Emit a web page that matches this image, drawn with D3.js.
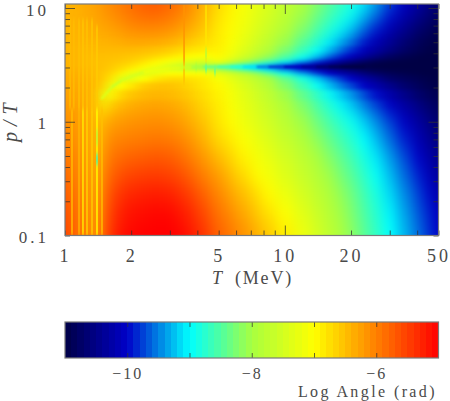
<!DOCTYPE html>
<html>
<head>
<meta charset="utf-8">
<script src="https://cdn.jsdelivr.net/npm/d3@7/dist/d3.min.js"></script>
<style>
  html, body { margin: 0; padding: 0; background: #fff; }
  text { font-family: "Liberation Serif", serif; fill: #4a4a4a; }
</style>
</head>
<body>
<div id="chart"></div>
<script>
// temperature and p/T of the cells
var tempCols = [1, 1.1, 1.2, 1.3, 1.4, 1.5, 1.65, 1.8, 2, 2.3, 2.6, 3, 3.4, 3.8, 4.3, 5, 5.7, 6.5, 7.5, 8.5, 10, 12, 14, 16, 18, 20, 23, 26, 30, 35, 40, 45, 50];
var ptRows = [10.9, 9.24, 7.56, 6.17, 5.05, 4.3, 3.8, 3.51, 3.3, 3.17, 3.04, 2.92, 2.81, 2.64, 2.39, 2.07, 1.73, 1.35, 1, 0.695, 0.483, 0.335, 0.233, 0.162, 0.117, 0.1];

// log angle per row, top of the plot first
var row00 = [-6.4,-6.4,-6.35,-6.3,-6.25,-6.15,-6.05,-5.95,-5.85,-5.75,-5.7,-5.8,-5.95,-6.15,-6.4,-6.7,-6.9,-7.1,-7.28,-7.46,-7.7,-7.95,-8.2,-8.45,-8.65,-8.84,-9.1,-9.4,-9.75,-10.08,-10.3,-10.5,-10.7];
var row01 = [-6.4,-6.4,-6.35,-6.3,-6.25,-6.18,-6.08,-6,-5.9,-5.8,-5.78,-5.88,-6.02,-6.2,-6.45,-6.75,-6.93,-7.12,-7.32,-7.5,-7.75,-8.02,-8.3,-8.54,-8.74,-8.93,-9.22,-9.52,-9.87,-10.16,-10.4,-10.6,-10.75];
var row02 = [-6.4,-6.4,-6.38,-6.35,-6.3,-6.25,-6.18,-6.1,-6,-5.95,-5.95,-6,-6.15,-6.3,-6.5,-6.8,-6.96,-7.16,-7.37,-7.56,-7.82,-8.12,-8.41,-8.67,-8.88,-9.1,-9.42,-9.72,-10.05,-10.31,-10.55,-10.72,-10.85];
var row03 = [-6.4,-6.4,-6.4,-6.38,-6.35,-6.32,-6.28,-6.22,-6.15,-6.12,-6.12,-6.18,-6.28,-6.42,-6.6,-6.85,-6.98,-7.2,-7.43,-7.64,-7.91,-8.24,-8.55,-8.82,-9.05,-9.32,-9.66,-9.97,-10.23,-10.48,-10.72,-10.85,-10.92];
var row04 = [-6.4,-6.42,-6.42,-6.42,-6.42,-6.4,-6.38,-6.35,-6.3,-6.3,-6.32,-6.38,-6.48,-6.6,-6.72,-6.85,-7.04,-7.28,-7.53,-7.75,-8.06,-8.43,-8.74,-9.03,-9.31,-9.56,-9.9,-10.14,-10.38,-10.63,-10.82,-10.92,-10.97];
var row05 = [-6.4,-6.42,-6.45,-6.45,-6.45,-6.45,-6.45,-6.45,-6.45,-6.48,-6.52,-6.6,-6.7,-6.78,-6.85,-6.9,-7.1,-7.38,-7.65,-7.9,-8.24,-8.61,-8.93,-9.26,-9.55,-9.82,-10.1,-10.3,-10.53,-10.74,-10.88,-10.96,-11];
var row06 = [-6.4,-6.42,-6.45,-6.48,-6.48,-6.5,-6.5,-6.52,-6.55,-6.6,-6.68,-6.78,-6.9,-6.98,-7.05,-6.95,-7.2,-7.52,-7.83,-8.1,-8.46,-8.83,-9.18,-9.53,-9.82,-10.06,-10.3,-10.53,-10.75,-10.88,-10.96,-11,-11];
var row07 = [-6.4,-6.42,-6.45,-6.48,-6.5,-6.5,-6.52,-6.55,-6.6,-6.72,-6.85,-7,-7.1,-7.2,-7.3,-7.08,-7.4,-7.74,-8.07,-8.34,-8.7,-9.1,-9.51,-9.86,-10.12,-10.32,-10.58,-10.78,-10.88,-10.96,-11,-11,-11];
var row08 = [-6.4,-6.42,-6.45,-6.48,-6.5,-6.52,-6.55,-6.6,-6.68,-6.82,-6.98,-7.2,-7.35,-7.5,-7.6,-7.34,-7.72,-8.1,-8.42,-8.72,-9.12,-9.55,-9.92,-10.23,-10.49,-10.72,-10.85,-10.94,-11,-11,-11,-11,-11];
var row09 = [-6.4,-6.42,-6.45,-6.48,-6.5,-6.52,-6.58,-6.65,-6.75,-6.92,-7.1,-7.35,-7.55,-7.7,-7.8,-7.9,-8.27,-8.67,-9.05,-9.3,-9.67,-10.04,-10.35,-10.6,-10.78,-10.88,-10.95,-11,-11,-11,-11,-11,-11];
var row10 = [-6.4,-6.42,-6.45,-6.48,-6.5,-6.52,-6.6,-6.7,-6.8,-7.02,-7.2,-7.45,-7.7,-7.95,-8.1,-8.4,-8.75,-9.05,-9.3,-9.5,-9.8,-10.1,-10.45,-10.7,-10.88,-11,-11,-11,-11,-11,-11,-11,-11];
var row11 = [-6.38,-6.4,-6.42,-6.45,-6.5,-6.52,-6.62,-6.72,-6.88,-7.15,-7.35,-7.4,-7.6,-7.75,-7.85,-8.1,-8.4,-8.72,-9.05,-9.28,-9.6,-9.95,-10.2,-10.44,-10.64,-10.78,-10.9,-10.98,-11,-11,-11,-11,-11];
var row12 = [-6.35,-6.38,-6.4,-6.45,-6.5,-6.55,-6.65,-6.78,-7,-7.25,-7.4,-7.28,-7.3,-7.4,-7.45,-7.68,-7.92,-8.26,-8.63,-8.97,-9.33,-9.71,-10.03,-10.23,-10.4,-10.56,-10.74,-10.85,-10.93,-10.98,-11,-11,-11];
var row13 = [-6.35,-6.38,-6.4,-6.45,-6.5,-6.58,-6.7,-6.95,-7.35,-7.4,-7.15,-7,-7,-7,-7.02,-7.28,-7.52,-7.78,-8.06,-8.4,-8.86,-9.3,-9.68,-10,-10.18,-10.35,-10.57,-10.74,-10.85,-10.92,-10.97,-11,-11];
var row14 = [-6.32,-6.35,-6.38,-6.42,-6.48,-6.6,-6.85,-7.4,-7.3,-7,-6.8,-6.72,-6.72,-6.78,-6.85,-7.08,-7.3,-7.55,-7.79,-8.02,-8.4,-8.81,-9.18,-9.5,-9.78,-10.02,-10.25,-10.46,-10.7,-10.82,-10.9,-10.96,-11];
var row15 = [-6.3,-6.32,-6.35,-6.4,-6.48,-6.7,-7.3,-7,-6.8,-6.6,-6.52,-6.52,-6.6,-6.7,-6.82,-6.95,-7.17,-7.42,-7.66,-7.89,-8.22,-8.6,-8.93,-9.24,-9.5,-9.74,-10.03,-10.23,-10.46,-10.68,-10.82,-10.92,-10.97];
var row16 = [-6.25,-6.3,-6.32,-6.38,-6.5,-7.3,-6.9,-6.65,-6.52,-6.45,-6.42,-6.45,-6.52,-6.62,-6.75,-6.9,-7.09,-7.32,-7.54,-7.75,-8.04,-8.38,-8.68,-8.94,-9.18,-9.4,-9.69,-9.96,-10.21,-10.46,-10.68,-10.82,-10.9];
var row17 = [-6.2,-6.25,-6.3,-6.35,-6.6,-6.8,-6.5,-6.42,-6.33,-6.28,-6.25,-6.3,-6.38,-6.52,-6.68,-6.85,-7.05,-7.25,-7.45,-7.64,-7.89,-8.2,-8.5,-8.76,-8.98,-9.19,-9.46,-9.71,-10,-10.25,-10.47,-10.67,-10.8];
var row18 = [-6.1,-6.2,-6.25,-6.3,-6.55,-6.38,-6.25,-6.2,-6.15,-6.12,-6.1,-6.14,-6.24,-6.38,-6.55,-6.8,-6.98,-7.18,-7.37,-7.54,-7.78,-8.04,-8.31,-8.55,-8.75,-8.93,-9.19,-9.45,-9.74,-10.04,-10.29,-10.5,-10.7];
var row19 = [-6,-6.15,-6.2,-6.3,-6.5,-6.25,-6.05,-6.02,-5.98,-5.95,-5.92,-5.95,-6.05,-6.2,-6.4,-6.68,-6.85,-7.04,-7.23,-7.41,-7.64,-7.88,-8.13,-8.37,-8.57,-8.76,-9,-9.26,-9.57,-9.87,-10.14,-10.36,-10.56];
var row20 = [-5.9,-6.05,-6.15,-6.25,-6.45,-6.12,-5.9,-5.82,-5.76,-5.72,-5.68,-5.72,-5.84,-6,-6.2,-6.45,-6.68,-6.9,-7.1,-7.27,-7.5,-7.74,-7.96,-8.19,-8.4,-8.6,-8.85,-9.09,-9.39,-9.7,-9.98,-10.22,-10.44];
var row21 = [-5.8,-6,-6.1,-6.2,-6.4,-6,-5.75,-5.6,-5.52,-5.48,-5.45,-5.5,-5.62,-5.78,-6,-6.22,-6.48,-6.72,-6.97,-7.14,-7.38,-7.62,-7.84,-8.04,-8.26,-8.46,-8.72,-8.96,-9.26,-9.57,-9.85,-10.09,-10.32];
var row22 = [-5.7,-5.9,-6.05,-6.15,-6.35,-5.9,-5.58,-5.4,-5.3,-5.25,-5.22,-5.26,-5.38,-5.55,-5.78,-6.05,-6.28,-6.5,-6.75,-6.97,-7.22,-7.48,-7.72,-7.92,-8.12,-8.33,-8.6,-8.85,-9.15,-9.45,-9.72,-9.96,-10.2];
var row23 = [-5.6,-5.85,-6,-6.1,-6.3,-5.82,-5.45,-5.25,-5.14,-5.1,-5.06,-5.08,-5.2,-5.36,-5.6,-5.9,-6.12,-6.34,-6.58,-6.8,-7.05,-7.35,-7.61,-7.84,-8.04,-8.25,-8.52,-8.77,-9.06,-9.36,-9.64,-9.87,-10.08];
var row24 = [-5.55,-5.8,-5.95,-6.05,-6.25,-5.75,-5.38,-5.18,-5.08,-5.03,-5,-5,-5.1,-5.25,-5.48,-5.8,-5.98,-6.2,-6.43,-6.64,-6.91,-7.23,-7.52,-7.77,-7.98,-8.19,-8.46,-8.71,-9,-9.3,-9.57,-9.81,-10.02];
var row25 = [-5.5,-5.8,-5.95,-6.05,-6.25,-5.72,-5.32,-5.12,-5.03,-5,-5,-5,-5.05,-5.2,-5.42,-5.75,-5.95,-6.15,-6.38,-6.6,-6.87,-7.2,-7.5,-7.75,-7.96,-8.17,-8.44,-8.69,-8.98,-9.28,-9.55,-9.78,-10];
var logAngle = [row00, row01, row02, row03, row04, row05, row06, row07, row08, row09, row10, row11, row12, row13, row14, row15, row16, row17, row18, row19, row20, row21, row22, row23, row24, row25];

// the thin resonance line
var ridgeT = [1.47, 1.57, 1.65, 1.8, 2, 2.3, 2.6, 3, 3.4, 3.8, 4.3, 5, 5.7, 6.5, 7.5, 8.5, 10, 12, 14, 16, 18, 20, 23];
var ridgeP = [1.6, 1.85, 2.05, 2.3, 2.5, 2.72, 2.85, 2.95, 3.0, 3.02, 3.04, 3.04, 3.04, 3.04, 3.04, 3.04, 3.04, 3.04, 3.04, 3.04, 3.04, 3.04, 3.04];
var ridgeValue = [-7.4, -7.5, -7.7, -7.5, -7.5, -7.2, -7.2, -7.3, -7.5, -8, -8.4, -8.6, -8.8, -9.1, -9.5, -9.8, -10.1, -10.4, -10.7, -10.9, -11, -11, -11];

// vertical stripes at low T and around the wiggles
var stripeT = [1.076, 1.158, 1.207, 1.259, 1.327, 1.398, 1.473, 1.054, 1.096, 1.158, 1.207, 1.259, 1.327, 1.398, 1.398, 1.398, 3.48, 3.48, 4.38, 4.38, 4.38, 4.81, 3.95];
var stripeLow = [0.1, 0.1, 0.1, 0.1, 0.1, 0.1, 0.1, 1.3, 1.3, 1.3, 1.3, 1.3, 1.3, 1.3, 0.42, 0.62, 3.3, 2.2, 3.3, 3.6, 2.75, 2.6, 2.85];
var stripeHigh = [1.3, 1.3, 1.3, 1.3, 1.3, 1.3, 1.3, 8, 8, 8, 8, 8, 8, 7, 0.52, 0.85, 10.9, 3.3, 10.9, 4.4, 3.2, 3.0, 3.2];
var stripeValue = [-6.5, -6.4, -6.85, -6.65, -6.6, -7, -6.5, -6.48, -6.48, -6.5, -6.55, -6.52, -6.55, -6.6, -8.6, -7.7, -6.15, -6.5, -6.8, -7.9, -8.5, -8.4, -8];

var xTicks = [1, 2, 3, 4, 5, 6, 7, 8, 9, 10, 20, 30, 40, 50];
var xLabels = [1, 2, 5, 10, 20, 50];
var yTicks = [0.1, 0.2, 0.3, 0.4, 0.5, 0.6, 0.7, 0.8, 0.9, 1, 2, 3, 4, 5, 6, 7, 8, 9, 10];
var yLabels = [0.1, 1, 10];
var yLong = [1, 10];
var barTicks = [-10, -8, -6];
var barMinor = [-10, -9, -8, -7, -6];
var colorStops = [-11, -10, -9, -8.5, -8, -7, -6, -5];
var colorHex = ["#000045", "#0000c8", "#00ffff", "#50ffa0", "#a8ff40", "#ffff00", "#ff8000", "#ff0000"];

var width = 450, height = 401;
var plot = {left: 65, right: 438.5, top: 4, bottom: 235.5};
var bar = {top: 322, bottom: 358};

var svg = d3.select("#chart").append("svg")
    .attr("width", width)
    .attr("height", height)
    .style("display", "block");

var x = d3.scaleLog().domain([1, 50]).range([plot.left, plot.right]);
var y = d3.scaleLog().domain([0.1, 10]).range([plot.bottom, 8]);
var color = d3.scaleLinear().domain(colorStops).range(colorHex).clamp(true);
var barX = d3.scaleLinear().domain([-11, -5]).range([plot.left, plot.right]);

var defs = svg.append("defs");
defs.append("clipPath").attr("id", "plotclip").append("rect")
    .attr("x", plot.left).attr("y", plot.top)
    .attr("width", plot.right - plot.left).attr("height", plot.bottom - plot.top);

function blur(id, sx, sy) {
  defs.append("filter").attr("id", id)
      .attr("filterUnits", "userSpaceOnUse")
      .attr("color-interpolation-filters", "sRGB")
      .attr("x", -60).attr("y", -60).attr("width", width + 120).attr("height", height + 120)
    .append("feGaussianBlur").attr("stdDeviation", sx + " " + sy);
}
blur("wide", 6, 8);
blur("fine", 5.5, 2);
blur("thin", 0.8, 1);
blur("stripe", 0.5, 2);

// the fine rows only show around the ridge, the wide blur takes the rest
var fade = defs.append("linearGradient").attr("id", "ridgefade")
    .attr("gradientUnits", "userSpaceOnUse")
    .attr("x1", 0).attr("x2", 0).attr("y1", 34).attr("y2", 110);
fade.append("stop").attr("offset", 0).attr("stop-color", "#fff").attr("stop-opacity", 0);
fade.append("stop").attr("offset", 0.2).attr("stop-color", "#fff").attr("stop-opacity", 1);
fade.append("stop").attr("offset", 0.7).attr("stop-color", "#fff").attr("stop-opacity", 1);
fade.append("stop").attr("offset", 1).attr("stop-color", "#fff").attr("stop-opacity", 0);
defs.append("mask").attr("id", "ridgemask")
    .attr("maskUnits", "userSpaceOnUse")
    .attr("x", 0).attr("y", 0).attr("width", width).attr("height", height)
  .append("rect").attr("width", width).attr("height", height).attr("fill", "url(#ridgefade)");

// cell edges halfway between the centres, outer cells run past the frame so blur stays clean
function edges(scale, vals, pad) {
  var c = vals.map(scale), out = [c[0] - pad];
  d3.pairs(c).forEach(function(p) { out.push((p[0] + p[1]) / 2); });
  out.push(c[c.length - 1] + pad);
  return out;
}
var xe = edges(x, tempCols, 40).map(Math.round);
var ye = edges(y, ptRows, 40).map(Math.round);

var plotArea = svg.append("g").attr("clip-path", "url(#plotclip)");

function drawCells(parent) {
  parent.selectAll("g").data(logAngle).enter().append("g")
    .each(function(row, r) {
      d3.select(this).selectAll("rect").data(row).enter().append("rect")
        .attr("x", function(d, i) { return xe[i]; })
        .attr("width", function(d, i) { return xe[i + 1] - xe[i]; })
        .attr("y", ye[r])
        .attr("height", ye[r + 1] - ye[r])
        .attr("shape-rendering", "crispEdges")
        .attr("fill", function(d) { return color(d); });
    });
}
drawCells(plotArea.append("g").attr("filter", "url(#wide)"));
drawCells(plotArea.append("g").attr("mask", "url(#ridgemask)").append("g").attr("filter", "url(#fine)"));

// stripes
plotArea.append("g").attr("filter", "url(#stripe)").attr("opacity", 0.8)
  .selectAll("rect").data(stripeT).enter().append("rect")
    .attr("x", function(d) { return x(d) - 0.9; })
    .attr("width", 1.8)
    .attr("y", function(d, i) { return y(stripeHigh[i]); })
    .attr("height", function(d, i) { return y(stripeLow[i]) - y(stripeHigh[i]); })
    .attr("fill", function(d, i) { return color(stripeValue[i]); });

// ridge core, one short segment per pair so each keeps its colour
plotArea.append("g").attr("filter", "url(#thin)")
  .selectAll("line").data(d3.pairs(d3.range(ridgeT.length))).enter().append("line")
    .attr("x1", function(d) { return x(ridgeT[d[0]]); })
    .attr("x2", function(d) { return x(ridgeT[d[1]]); })
    .attr("y1", function(d) { return y(ridgeP[d[0]]); })
    .attr("y2", function(d) { return y(ridgeP[d[1]]); })
    .attr("stroke-width", 2.2)
    .attr("stroke-linecap", "round")
    .attr("stroke", function(d) { return color(ridgeValue[d[0]]); });

var tickColor = "#333", frameColor = "#7a7a7a";

function styleAxis(g) {
  g.select(".domain").remove();
  g.selectAll(".tick line").attr("stroke", tickColor).attr("stroke-opacity", 0.75);
  g.selectAll("text").style("font-size", "17px").style("letter-spacing", "3px");
}

var xLab = function(d) { return xLabels.indexOf(d) >= 0 ? d : ""; };
var yLab = function(d) { return yLabels.indexOf(d) >= 0 ? d : ""; };

svg.append("g").attr("transform", "translate(0," + plot.bottom + ")")
  .call(d3.axisBottom(x).tickValues(xTicks).tickSize(-5).tickPadding(14).tickFormat(xLab))
  .call(styleAxis)
  .call(function(g) {
    g.selectAll("text").style("font-size", "18px");
    g.selectAll(".tick line").attr("y2", function(d) { return d === 10 ? -10 : -5; });
  });

svg.append("g").attr("transform", "translate(0," + plot.top + ")")
  .call(d3.axisTop(x).tickValues(xTicks).tickSize(-5).tickFormat(""))
  .call(styleAxis)
  .call(function(g) { g.selectAll(".tick line").attr("y2", function(d) { return d === 10 ? 10 : 5; }); });

svg.append("g").attr("transform", "translate(" + plot.left + ",0)")
  .call(d3.axisLeft(y).tickValues(yTicks).tickSize(-5).tickPadding(16).tickFormat(yLab))
  .call(styleAxis)
  .call(function(g) {
    g.selectAll("text").attr("dy", "0.42em");
    g.selectAll(".tick line").attr("x2", function(d) { return yLong.indexOf(d) >= 0 ? 10 : 5; });
  });

svg.append("g").attr("transform", "translate(" + plot.right + ",0)")
  .call(d3.axisRight(y).tickValues(yTicks).tickSize(-5).tickFormat(""))
  .call(styleAxis)
  .call(function(g) { g.selectAll(".tick line").attr("x2", function(d) { return yLong.indexOf(d) >= 0 ? -10 : -5; }); });

svg.append("rect")
    .attr("x", plot.left).attr("y", plot.top)
    .attr("width", plot.right - plot.left).attr("height", plot.bottom - plot.top)
    .attr("fill", "none").attr("stroke", frameColor).attr("stroke-width", 1.2);

// axis titles
var xTitle = svg.append("text").attr("x", 212).attr("y", 284)
    .style("font-size", "18px").style("letter-spacing", "1.8px");
xTitle.append("tspan").style("font-style", "italic").text("T");
xTitle.append("tspan").attr("x", 235).text("(MeV)");

svg.append("text")
    .attr("transform", "translate(17,142) rotate(-90)")
    .style("font-size", "20px").style("font-style", "italic").style("letter-spacing", "6px")
    .text("p/T");

// colour bar
var barSteps = d3.range(-11, -5, 0.1);
svg.append("g").selectAll("rect").data(barSteps).enter().append("rect")
    .attr("x", function(d) { return barX(d); })
    .attr("width", (plot.right - plot.left) / barSteps.length + 0.5)
    .attr("y", bar.top)
    .attr("height", bar.bottom - bar.top)
    .attr("shape-rendering", "crispEdges")
    .attr("fill", function(d) { return color(d + 0.05); });

svg.append("g").attr("transform", "translate(0," + bar.bottom + ")")
  .call(d3.axisBottom(barX).tickValues(barMinor).tickSize(-5).tickPadding(10)
    .tickFormat(function(d) { return barTicks.indexOf(d) >= 0 ? "\u2212" + Math.abs(d) : ""; }))
  .call(styleAxis)
  .call(function(g) { g.selectAll("text").style("font-size", "16px").style("letter-spacing", "2px"); });

svg.append("g").attr("transform", "translate(0," + bar.top + ")")
  .call(d3.axisTop(barX).tickValues(barMinor).tickSize(-5).tickFormat(""))
  .call(styleAxis);

svg.append("rect")
    .attr("x", plot.left).attr("y", bar.top)
    .attr("width", plot.right - plot.left).attr("height", bar.bottom - bar.top)
    .attr("fill", "none").attr("stroke", frameColor).attr("stroke-width", 1.2);

svg.append("text").attr("x", 437).attr("y", 397)
    .attr("text-anchor", "end")
    .style("font-size", "16px").style("letter-spacing", "2.4px")
    .text("Log Angle (rad)");
</script>
</body>
</html>
